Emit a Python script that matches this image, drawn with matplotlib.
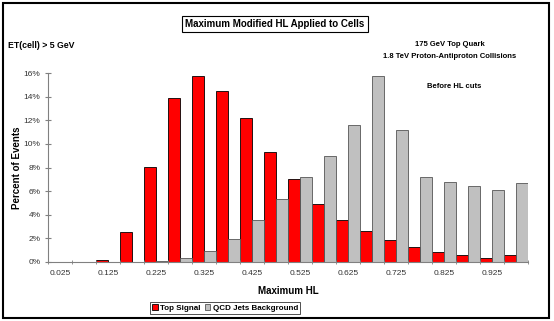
import matplotlib.pyplot as plt
from matplotlib.patches import Rectangle
import numpy as np

plt.rcParams["font.family"] = ["Liberation Sans", "DejaVu Sans"]

categories = ["0.025", "0.075", "0.125", "0.175", "0.225", "0.275", "0.325", "0.375",
              "0.425", "0.475", "0.525", "0.575", "0.625", "0.675", "0.725", "0.775",
              "0.825", "0.875", "0.925", "0.975"]
top_signal = [0.0, 0.0, 0.2, 2.5, 8.07, 13.85, 15.77, 14.47, 12.19, 9.31,
              7.0, 4.91, 3.58, 2.65, 1.86, 1.3, 0.82, 0.62, 0.31, 0.62]
qcd_background = [0.0, 0.0, 0.0, 0.0, 0.08, 0.34, 0.93, 1.98, 3.56, 5.3,
                  7.17, 8.97, 11.6, 15.77, 11.17, 7.2, 6.8, 6.4, 6.12, 6.66]
ytick_vals = [0, 2, 4, 6, 8, 10, 12, 14, 16]

W, H = 554, 321
fig = plt.figure(figsize=(W / 100, H / 100), dpi=100)
fig.patch.set_facecolor("white")

# outer chart frame
fig.patches.append(Rectangle((3 / W, 3 / H), 546 / W, 315 / H, transform=fig.transFigure,
                             fill=False, edgecolor="black", linewidth=1.5))

ax = fig.add_axes([48 / W, 1 - 262 / H, 480 / W, (262 - 73) / H])
x = np.arange(len(categories))
bw = 0.48
ax.bar(x + 0.5 - bw / 2, top_signal, width=bw, color="#FF0000", edgecolor="black",
       linewidth=0.6, label="Top Signal")
ax.bar(x + 0.5 + bw / 2, qcd_background, width=bw, color="#C0C0C0", edgecolor="#555555",
       linewidth=0.6, label="QCD Jets Background")

ax.set_xlim(0, len(categories))
ax.set_ylim(0, 16)
ax.set_xticks(x[::2] + 0.5)
ax.set_xticklabels(categories[::2])
ax.set_xticks(np.arange(len(categories) + 1), minor=True)
ax.tick_params(axis="x", which="major", length=0, labelsize=6, labelcolor="#333333", pad=6)
ax.tick_params(axis="x", which="minor", length=3, direction="inout", color="#808080")
ax.set_yticks(ytick_vals)
ax.set_yticklabels([f"{v}%" for v in ytick_vals])
ax.tick_params(axis="y", length=5, direction="inout", color="#808080", labelsize=6,
               labelcolor="#333333", pad=3)
for side in ["top", "right"]:
    ax.spines[side].set_visible(False)
for side in ["left", "bottom"]:
    ax.spines[side].set_color("#808080")
    ax.spines[side].set_linewidth(0.8)

ax.set_xlabel("Maximum HL", fontsize=7, fontweight="bold", labelpad=6)
ax.set_ylabel("Percent of Events", fontsize=7, fontweight="bold")
ax.yaxis.set_label_coords((22 - 48) / 480, 0.5)

fig.text(275 / W, 1 - 24 / H, "Maximum Modified HL Applied to Cells", ha="center", va="center",
         fontsize=7, fontweight="bold",
         bbox=dict(boxstyle="square,pad=0.35", facecolor="white", edgecolor="black", linewidth=0.8))
fig.text(8 / W, 1 - 45 / H, "ET(cell) > 5 GeV", ha="left", va="center", fontsize=6.3,
         fontweight="bold")
fig.text(450 / W, 1 - 45 / H, "175 GeV Top Quark", ha="center", va="center", fontsize=5.5,
         fontweight="bold")
fig.text(450 / W, 1 - 56 / H, "1.8 TeV Proton-Antiproton Collisions", ha="center", va="center",
         fontsize=5.5, fontweight="bold")
fig.text(454 / W, 1 - 87 / H, "Before HL cuts", ha="center", va="center", fontsize=5.5,
         fontweight="bold")

leg = fig.legend(loc="center", bbox_to_anchor=(225 / W, 1 - 308 / H), ncol=2, fontsize=5.8,
                 frameon=True, fancybox=False, edgecolor="black", handlelength=0.7,
                 handleheight=0.7, handletextpad=0.3, columnspacing=0.5, borderpad=0.25,
                 borderaxespad=0)
leg.get_frame().set_linewidth(0.6)
for t in leg.get_texts():
    t.set_fontweight("bold")

fig.savefig("out.png", dpi=100)
